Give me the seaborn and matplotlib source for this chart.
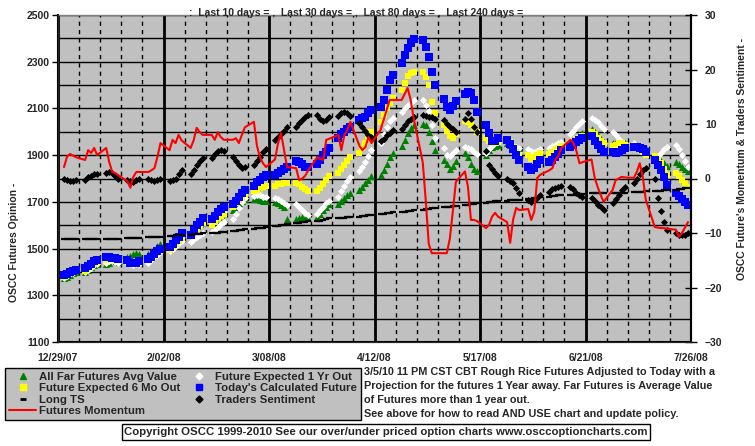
import matplotlib
matplotlib.use("Agg")
import matplotlib.pyplot as plt
import matplotlib.dates as mdates
from matplotlib.ticker import FixedLocator, MultipleLocator, NullFormatter
from matplotlib.lines import Line2D
import seaborn as sns
import pandas as pd

# dias de pregao (seg-sex) de 31/12/07 a 25/07/08
dias = pd.bdate_range("2007-12-31", "2008-07-25")

x_labels = ["12/29/07", "2/02/08", "3/08/08", "4/12/08", "5/17/08", "6/21/08", "7/26/08"]
y_left_ticks = [1100, 1300, 1500, 1700, 1900, 2100, 2300, 2500]
y_right_ticks = [-30, -20, -10, 0, 10, 20, 30]

# All Far Futures Avg Value (eixo esquerdo)
far_futures = [
    1372, 1380, 1388, 1395, 1400, 1400, 1410, 1420, 1428, 1435,
    1432, 1440, 1445, 1445, 1442, 1465, 1470, 1478, 1480, 1475,
    1475, 1485, 1495, 1510, 1520, 1525, 1535, 1545, 1555, 1562,
    1565, 1580, 1595, 1605, 1615, 1610, 1622, 1635, 1645, 1655,
    1665, 1680, 1695, 1705, 1712, 1712, 1712, 1708, 1705, 1702,
    1700, 1695, 1688, 1680, 1625, 1625, 1630, 1635, 1632, 1630,
    1635, 1650, 1665, 1680, 1690, 1690, 1705, 1715, 1728, 1740,
    1750, 1765, 1780, 1795, 1812, 1815, 1835, 1860, 1890, 1910,
    1940, 1965, 1995, 2015, 2030, 2035, 2030, 2000, 1960, 1920,
    1880, 1860, 1840, 1855, 1875, 1910, 1890, 1860, 1840, 1830,
    1900, 1920, 1935, 1940, 1945, 1950, 1945, 1940, 1935, 1930,
    1910, 1900, 1900, 1905, 1915, 1920, 1928, 1935, 1942, 1950,
    1955, 1965, 1975, 1985, 1995, 2010, 2000, 1985, 1970, 1955,
    1950, 1955, 1958, 1955, 1950, 1945, 1945, 1940, 1935, 1930,
    1895, 1885, 1875, 1865, 1855, 1870, 1860, 1850, 1840, 1830,
]

# Future Expected 6 Mo Out
seis_meses = [
    1380, 1388, 1394, 1400, 1406, 1405, 1415, 1425, 1435, 1442,
    1450, 1455, 1455, 1452, 1450, 1448, 1440, 1435, 1438, 1442,
    1450, 1460, 1470, 1482, 1492, 1495, 1508, 1520, 1532, 1545,
    1555, 1570, 1585, 1598, 1610, 1600, 1615, 1630, 1640, 1650,
    1678, 1695, 1708, 1720, 1735, 1745, 1752, 1758, 1763, 1768,
    1770, 1775, 1778, 1780, 1782, 1780, 1775, 1765, 1755, 1745,
    1745, 1760, 1778, 1795, 1812, 1825, 1840, 1858, 1875, 1892,
    1910, 1930, 1950, 1975, 1999, 2042, 2072, 2100, 2125, 2145,
    2179, 2210, 2240, 2252, 2258, 2256, 2234, 2200, 2127, 2080,
    2030, 2005, 1980, 1975, 1990, 2045, 2040, 2030, 2015, 2000,
    1975, 1960, 1950, 1950, 1955, 1970, 1955, 1935, 1915, 1900,
    1900, 1885, 1890, 1900, 1910, 1905, 1912, 1920, 1930, 1940,
    1952, 1960, 1968, 1975, 1982, 2000, 1990, 1975, 1962, 1950,
    1940, 1945, 1950, 1950, 1945, 1935, 1932, 1925, 1915, 1900,
    1895, 1880, 1865, 1840, 1815, 1825, 1810, 1795, 1780, 1765,
]

# Future Expected 1 Yr Out
um_ano = [
    1375, 1383, 1390, 1396, 1402, 1400, 1408, 1418, 1428, 1435,
    1440, 1445, 1445, 1443, 1440, 1440, 1435, 1430, 1432, 1436,
    1440, 1450, 1462, 1474, 1484, 1490, 1500, 1512, 1522, 1532,
    1530, 1540, 1550, 1560, 1568, 1570, 1580, 1592, 1605, 1615,
    1625, 1650, 1675, 1700, 1715, 1725, 1730, 1728, 1722, 1720,
    1718, 1712, 1705, 1695, 1688, 1692, 1680, 1665, 1652, 1645,
    1650, 1665, 1680, 1695, 1705, 1720, 1745, 1770, 1790, 1805,
    1830, 1850, 1870, 1895, 1920, 1950, 1990, 2020, 2045, 2060,
    2085, 2100, 2115, 2125, 2135, 2135, 2115, 2090, 2030, 1975,
    1930, 1900, 1895, 1910, 1920, 1935, 1932, 1925, 1912, 1905,
    1910, 1925, 1940, 1950, 1955, 1955, 1945, 1940, 1935, 1930,
    1925, 1918, 1912, 1918, 1925, 1930, 1938, 1945, 1950, 1958,
    1990, 2005, 2020, 2035, 2045, 2060, 2050, 2040, 2025, 2010,
    2000, 1985, 1970, 1955, 1940, 1950, 1935, 1920, 1910, 1905,
    1880, 1895, 1910, 1925, 1935, 1945, 1925, 1900, 1875, 1850,
]

# Today's Calculated Future
hoje = [
    1385, 1392, 1398, 1404, 1410, 1415, 1425, 1435, 1445, 1452,
    1465, 1462, 1460, 1458, 1455, 1450, 1440, 1438, 1440, 1445,
    1455, 1465, 1478, 1490, 1500, 1505, 1520, 1535, 1550, 1565,
    1560, 1580, 1600, 1615, 1630, 1625, 1640, 1655, 1668, 1680,
    1690, 1705, 1720, 1738, 1752, 1770, 1785, 1795, 1805, 1815,
    1815, 1825, 1832, 1840, 1850, 1875, 1870, 1860, 1850, 1848,
    1860, 1880, 1900, 1915, 1930, 1975, 1990, 2000, 2010, 2020,
    2050, 2060, 2063, 2080, 2093, 2105, 2135, 2180, 2220, 2245,
    2295, 2330, 2360, 2380, 2397, 2395, 2365, 2320, 2255, 2200,
    2140, 2105, 2095, 2110, 2130, 2160, 2170, 2165, 2135, 2085,
    2030, 1995, 1962, 1962, 1975, 1965, 1948, 1925, 1900, 1880,
    1850, 1836, 1845, 1860, 1880, 1870, 1880, 1890, 1905, 1920,
    1935, 1945, 1955, 1965, 1975, 1980, 1960, 1945, 1925, 1912,
    1912, 1908, 1915, 1922, 1930, 1935, 1935, 1932, 1925, 1912,
    1880, 1858, 1836, 1806, 1772, 1740, 1725, 1712, 1700, 1686,
]

# Long TS
long_ts = [
    1540, 1540, 1540, 1540, 1540, 1540, 1540, 1540, 1540, 1540,
    1540, 1540, 1540, 1540, 1540, 1545, 1545, 1545, 1545, 1545,
    1548, 1548, 1550, 1550, 1550, 1552, 1555, 1556, 1558, 1560,
    1560, 1561, 1562, 1563, 1565, 1566, 1567, 1568, 1570, 1572,
    1574, 1576, 1578, 1580, 1582, 1584, 1586, 1588, 1590, 1592,
    1595, 1598, 1600, 1603, 1606, 1608, 1610, 1612, 1614, 1616,
    1618, 1620, 1623, 1626, 1630, 1631, 1632, 1633, 1634, 1635,
    1636, 1638, 1640, 1642, 1645, 1647, 1649, 1651, 1653, 1655,
    1656, 1658, 1660, 1662, 1665, 1666, 1668, 1670, 1672, 1675,
    1676, 1678, 1680, 1682, 1684, 1686, 1688, 1690, 1692, 1695,
    1696, 1698, 1700, 1702, 1704, 1705, 1706, 1708, 1709, 1710,
    1712, 1714, 1716, 1718, 1720, 1722, 1724, 1726, 1728, 1729,
    1730, 1731, 1732, 1734, 1735, 1736, 1737, 1738, 1738, 1738,
    1738, 1739, 1740, 1740, 1740, 1741, 1742, 1743, 1744, 1745,
    1746, 1747, 1748, 1749, 1750, 1752, 1754, 1756, 1758, 1760,
]

# Futures Momentum (eixo direito)
momentum = [
    2.1, 4.0, 4.5, 4.2, 3.9, 3.4, 5.2, 4.7, 5.6, 4.3,
    5.6, 3.0, 1.2, 1.0, 0.6, -0.5, -1.7, 0.3, 1.2, 1.2,
    1.2, 1.5, 1.9, 4.0, 6.5, 5.2, 7.1, 6.5, 8.0, 7.0,
    5.6, 7.0, 9.3, 8.5, 8.0, 8.0, 7.1, 8.5, 7.6, 7.1,
    7.1, 7.4, 6.5, 8.0, 9.4, 10.4, 6.0, 3.9, 2.8, 2.1,
    3.5, 6.5, 8.3, 5.2, 2.1, 1.9, -0.3, 0.0, 0.5, 1.5,
    3.9, 3.6, 3.4, 7.1, 7.3, 8.0, 5.2, 8.0, 8.9, 10.4,
    6.0, 5.2, 5.8, 7.6, 6.5, 8.9, 10.7, 12.5, 14.4, 14.4,
    14.4, 15.5, 16.6, 14.4, 11.0, 3.0, -4.0, -12.0, -13.7, -13.7,
    -13.7, -13.7, -11.0, -6.0, -0.6, 1.3, -1.5, -7.6, -7.6, -7.8,
    -9.1, -8.5, -7.0, -6.3, -7.0, -8.0, -11.8, -7.5, -5.4, -5.8,
    -5.6, -7.6, -6.1, 0.1, 0.7, 1.5, 1.9, 3.4, 4.2, 5.6,
    7.1, 6.5, 5.0, 2.8, 3.0, 3.5, 0.3, -1.5, -3.0, -4.3,
    -2.1, -0.3, 0.0, 0.3, 0.2, 0.1, 1.2, 2.8, 0.3, -3.9,
    -8.9, -9.0, -9.1, -9.1, -9.2, -9.4, -10.7, -10.0, -9.0, -8.0,
]

# Traders Sentiment (eixo direito)
sentimento = [
    0.0, -0.3, -0.5, -0.4, -0.2, -0.3, 0.2, 0.5, 0.8, 0.8,
    1.0, 1.2, 1.0, 0.5, 0.0, -0.3, -0.5, -0.6, -0.3, 0.0,
    0.0, -0.3, -0.4, -0.2, 0.0, -0.5, -0.3, 0.0, 0.8, 1.5,
    0.8, 1.6, 2.4, 3.2, 3.8, 3.8, 4.5, 5.0, 5.2, 5.0,
    4.0, 3.2, 2.5, 2.0, 2.2, 2.5, 3.3, 4.0, 4.8, 5.5,
    7.0, 7.6, 8.2, 8.8, 9.4, 9.5, 10.2, 10.8, 11.3, 11.7,
    11.7, 11.0, 10.5, 10.8, 11.2, 11.5, 12.0, 12.2, 12.0, 11.5,
    10.2, 9.5, 8.8, 8.0, 7.6, 6.8, 7.3, 7.9, 8.4, 8.9,
    9.0, 9.8, 10.5, 11.0, 11.3, 11.7, 11.5, 11.3, 11.2, 11.0,
    10.7, 10.0, 9.5, 9.0, 8.5, 11.0, 12.0, 11.0, 9.5, 8.5,
    5.0, 2.5, 1.8, 1.0, 0.5, 0.0, -0.5, -0.8, -1.8, -2.7,
    -4.0, -4.3, -4.0, -3.6, -3.0, -2.5, -2.0, -1.7, -1.5, -1.3,
    -1.6, -2.0, -2.6, -3.0, -3.4, -3.5, -4.2, -4.8, -5.3, -5.8,
    -4.5, -3.8, -3.0, -2.2, -1.6, -0.8, 0.0, 0.8, 1.5, 2.0,
    0.0, -3.5, -6.0, -8.0, -9.5, -10.0, -10.3, -10.4, -10.3, -10.0,
]

df = pd.DataFrame({
    "data": dias,
    "far": far_futures,
    "seis": seis_meses,
    "ano": um_ano,
    "hoje": hoje,
    "long_ts": long_ts,
    "momentum": momentum,
    "sentimento": sentimento,
})

sns.set_style("white")
plt.rcParams["font.family"] = ["Liberation Sans", "DejaVu Sans"]
plt.rcParams["font.weight"] = "bold"
plt.rcParams["font.size"] = 7.5

cinza = "#C0C0C0"
verde = "#008000"
amarelo = "#FFFF00"
azul = "#0000FF"

fig = plt.figure(figsize=(7.55, 4.46), dpi=100)
ax = fig.add_axes([58 / 755, 104 / 446, 633 / 755, 327 / 446])
ax.set_facecolor(cinza)
ax.set_axisbelow(True)

# series do eixo esquerdo
sns.scatterplot(x=df["data"], y=df["far"], marker="^", color=verde, s=26,
                linewidth=0, ax=ax, legend=False)
sns.scatterplot(x=df["data"], y=df["ano"], marker="D", color="white", s=13,
                linewidth=0, ax=ax, legend=False)
sns.scatterplot(x=df["data"], y=df["seis"], marker="s", color=amarelo, s=20,
                linewidth=0, ax=ax, legend=False)
sns.scatterplot(x=df["data"], y=df["hoje"], marker="s", color=azul, s=26,
                linewidth=0, ax=ax, legend=False)
sns.lineplot(x=df["data"], y=df["long_ts"], marker="_", linestyle="",
             color="black", markeredgecolor="black", markersize=3.8,
             markeredgewidth=1.6, ax=ax, legend=False)

ax.set_ylim(1100, 2500)
ax.yaxis.set_major_locator(FixedLocator(y_left_ticks))
ax.yaxis.set_minor_locator(MultipleLocator(100))
ax.set_xlabel("")
ax.set_ylabel("")

inicio = pd.Timestamp("2007-12-29")
fim = pd.Timestamp("2008-07-26")
ax.set_xlim(inicio, fim)
pos_major = mdates.date2num(pd.to_datetime(x_labels, format="%m/%d/%y"))
pos_minor = mdates.date2num(pd.date_range(inicio, fim, freq="7D"))
ax.xaxis.set_major_locator(FixedLocator(pos_major))
ax.set_xticklabels(x_labels)
ax.xaxis.set_minor_locator(FixedLocator(pos_minor))
ax.xaxis.set_minor_formatter(NullFormatter())

ax.yaxis.grid(True, which="both", color="black", lw=1)
ax.xaxis.grid(True, which="major", color="black", lw=2)
ax.xaxis.grid(True, which="minor", color="black", lw=1, ls=(0, (3, 3)))

ax.tick_params(axis="y", which="major", direction="out", length=4, width=1,
               labelsize=7.5, pad=2, color="black")
ax.tick_params(axis="y", which="minor", length=0)
ax.tick_params(axis="x", which="major", direction="out", length=4, width=1,
               labelsize=7.5, pad=4, color="black")
ax.tick_params(axis="x", which="minor", length=0)

for lado in ["left", "right", "bottom"]:
    ax.spines[lado].set_color("black")
    ax.spines[lado].set_linewidth(1.5)
ax.spines["top"].set_color("#808080")
ax.spines["top"].set_linewidth(1)

# eixo direito
ax2 = ax.twinx()
sns.scatterplot(x=df["data"], y=df["sentimento"], marker="D", color="black", s=13,
                linewidth=0, ax=ax2, legend=False)
sns.lineplot(x=df["data"], y=df["momentum"], color="red", lw=1.5, ax=ax2,
             legend=False)
ax2.set_ylim(-30, 30)
ax2.yaxis.set_major_locator(FixedLocator(y_right_ticks))
ax2.set_ylabel("")
ax2.set_xlabel("")
ax2.set_xlim(inicio, fim)
ax2.tick_params(axis="y", direction="inout", length=8, width=1, labelsize=7.5,
                pad=6, color="black")
ax2.spines["right"].set_linewidth(1.5)
ax2.spines["right"].set_color("black")
ax2.spines["top"].set_visible(False)

# textos
fig.text(356 / 755, 1 - 13 / 446,
         ":  Last 10 days = ,  Last 30 days = ,  Last 80 days = ,  Last 240 days =",
         ha="center", va="center", fontsize=7.5, fontweight="bold")
fig.text(14 / 755, 1 - 242 / 446, "OSCC Futures Opinion -", rotation=90,
         ha="center", va="center", fontsize=7.5, fontweight="bold")
fig.text(742 / 755, 1 - 159 / 446, "OSCC Future's Momentum & Traders Sentiment -",
         rotation=90, ha="center", va="center", fontsize=7.5, fontweight="bold")

nota = ["3/5/10 11 PM CST CBT Rough Rice Futures Adjusted to Today with a",
        "Projection for the futures 1 Year away. Far Futures is Average Value",
        "of Futures more than 1 year out.",
        "See above for how to read AND USE chart and update policy."]
for i, linha in enumerate(nota):
    fig.text(364 / 755, 1 - (372 + i * 14) / 446, linha, ha="left", va="center",
             fontsize=7.8, fontweight="bold")

fig.text(386 / 755, 1 - 432 / 446,
         "Copyright OSCC 1999-2010 See our over/under priced option charts www.osccoptioncharts.com",
         ha="center", va="center", fontsize=8.2, fontweight="bold",
         bbox=dict(boxstyle="square,pad=0.22", fc="white", ec="black", lw=1))

# legenda
handles = [
    Line2D([], [], marker="^", color=verde, ls="", markersize=5),
    Line2D([], [], marker="s", color=amarelo, ls="", markersize=4.5),
    Line2D([], [], marker="_", color="black", ls="", markersize=5, markeredgewidth=2),
    Line2D([], [], color="red", lw=1.5),
    Line2D([], [], marker="D", color="white", ls="", markersize=3.5),
    Line2D([], [], marker="s", color=azul, ls="", markersize=5),
    Line2D([], [], marker="D", color="black", ls="", markersize=3.5),
]
labels = ["All Far Futures Avg Value", "Future Expected 6 Mo Out", "Long TS",
          "Futures Momentum", "Future Expected 1 Yr Out",
          "Today's Calculated Future", "Traders Sentiment"]
leg = fig.legend(handles, labels, loc="upper left",
                 bbox_to_anchor=(5 / 755, 1 - 368 / 446), ncol=2,
                 frameon=True, fancybox=False, edgecolor="black", facecolor=cinza,
                 framealpha=1, fontsize=8.2, handlelength=2.4, handletextpad=0.2,
                 columnspacing=0.5, labelspacing=0.12, borderpad=0.35,
                 borderaxespad=0)
leg.get_frame().set_linewidth(1)

fig.savefig("out.png", dpi=100)
plt.close(fig)
